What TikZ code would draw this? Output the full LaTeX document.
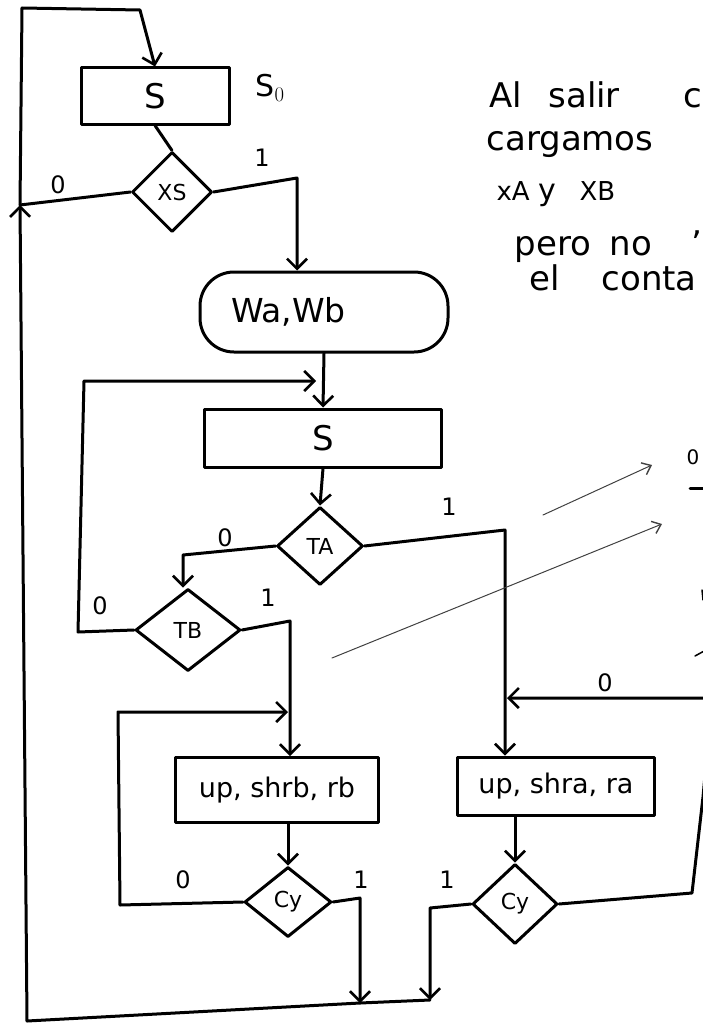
\documentclass[tikz,border=0pt]{standalone}
\usepackage{fontspec}
\setsansfont{DejaVu Sans}
\usetikzlibrary{shapes.geometric,arrows.meta}
\begin{document}
\begin{tikzpicture}[x=1pt,y=-1pt,
  line width=3pt, line join=round, line cap=round,
  every node/.style={font=\sffamily},
  arr/.style={-{Straight Barb[length=10pt,width=20pt,line width=2.6pt]}},
  thinarr/.style={line width=1pt, black!75, -{Straight Barb[length=8pt,width=13pt,line width=1.4pt]}},
  procbox/.style={draw, minimum width=#1, minimum height=58pt, inner sep=2pt, font=\sffamily\fontsize{27}{30}\selectfont},
  test/.style={draw, diamond, inner sep=0pt, font=\sffamily\fontsize{22}{26}\selectfont},
  term/.style={draw, rounded corners=34pt, minimum width=248pt, minimum height=80pt, font=\sffamily\fontsize{33}{36}\selectfont},
  lbl/.style={font=\sffamily\fontsize{24}{28}\selectfont},
  note/.style={anchor=base west, inner sep=0pt, font=\sffamily\fontsize{34}{40}\selectfont}]
\useasboundingbox (0,0) rectangle (703,1025);
\clip (0,0) rectangle (703,1025);

% states and tests
\node[procbox=148pt, minimum height=56pt, font=\sffamily\fontsize{34}{38}\selectfont] (s1) at (155,96) {S};
\node[test, minimum width=80pt, minimum height=80pt] (xs) at (172,192) {XS};
\node[term, text width=186pt, align=left] (wab) at (324,312) {Wa,Wb};
\node[procbox=237pt, font=\sffamily\fontsize{34}{38}\selectfont] (s2) at (323,438) {S};
\node[test, minimum width=86pt, minimum height=78pt] (ta) at (320,546) {TA};
\node[test, minimum width=105pt, minimum height=82pt] (tb) at (188,630) {TB};
\node[procbox=203pt, minimum height=65pt] (rb) at (277,790) {up, shrb, rb};
\node[test, minimum width=87pt, minimum height=70pt] (cy1) at (288,902) {Cy};
\node[procbox=197pt] (ra) at (556,786) {up, shra, ra};
\node[test, minimum width=85pt, minimum height=80pt] (cy2) at (515,904) {Cy};

% bend points
\coordinate (j0) at (20,205);
\coordinate (tl) at (22,8);
\coordinate (tm) at (140,10);
\coordinate (k1) at (297,178);
\coordinate (j1) at (316,381);
\coordinate (l1a) at (78,632);
\coordinate (l1b) at (84,381);
\coordinate (k2) at (183,555);
\coordinate (ka) at (505,530);
\coordinate (kb) at (507,698);
\coordinate (kc) at (290,621);
\coordinate (l2a) at (120,905);
\coordinate (l2b) at (118,712);
\coordinate (l2c) at (288,712);
\coordinate (k3) at (360,898);
\coordinate (m1) at (360,1003);
\coordinate (k4) at (430,908);
\coordinate (m2) at (430,1000);
\coordinate (bl) at (27,1021);
\coordinate (r1) at (692,893);
\coordinate (r2) at (703,797);
\coordinate (r3) at (712,698);

% main flow
\draw[arr] (j0) -- (tl) -- (tm) -- (s1.north);
\draw (s1.south) -- (xs.north);
\draw (xs.west) -- (j0);
\draw[arr] (xs.east) -- (k1) -- (k1 |- wab.north);
\draw[arr] (wab.south) -- (s2.north);
\draw[arr] (tb.west) -- (l1a) -- (l1b) -- (j1);
\draw[arr] (s2.south) -- (ta.north);
\draw[arr] (ta.west) -- (k2) -- (k2 |- tb.north);
\draw[arr] (ta.east) -- (ka) -- (ka |- ra.north);
\draw[arr] (tb.east) -- (kc) -- (kc |- rb.north);
\draw[arr] (cy1.west) -- (l2a) -- (l2b) -- (l2c);
\draw[arr] (cy1.north |- rb.south) -- (cy1.north);
\draw[arr] (cy1.east) -- (k3) -- (m1);
\draw[arr] (cy2.north |- ra.south) -- (cy2.north);
\draw[arr] (cy2.west) -- (k4) -- (m2);
\draw (m2) -- (m1);
\draw[arr] (m1) -- (bl) -- (j0);
\draw[arr] (cy2.east) -- (r1) -- (r2) -- (r3) -- (kb);

% branch labels
\node[lbl, font=\sffamily\fontsize{30}{34}\selectfont] at (270,88) {S$_0$};
\node[lbl] at (58,185) {0};
\node[lbl] at (262,158) {1};
\node[lbl] at (225,538) {0};
\node[lbl] at (449,507) {1};
\node[lbl] at (100,606) {0};
\node[lbl] at (268,598) {1};
\node[lbl] at (605,683) {0};
\node[lbl] at (183,880) {0};
\node[lbl] at (361,880) {1};
\node[lbl] at (447,880) {1};

% side note, word by word
\node[note] (w1) at (488,107) {Al};
\node[note] (w2) at (547,107) {salir};
\node[note] (w3) at (682,107) {c};
\node[note] (w4) at (485,150) {cargamos};
\node[note, font=\sffamily\fontsize{26}{30}\selectfont] (w5) at (495,200) {xA};
\node[note, font=\sffamily\fontsize{30}{34}\selectfont] (w6) at (537,200) {y};
\node[note, font=\sffamily\fontsize{26}{30}\selectfont] (w7) at (578,200) {XB};
\node[note] (w8) at (513,255) {pero};
\node[note] (w9) at (608,255) {no};
\node[note] (w10) at (690,255) {'};
\node[note] (w11) at (528,290) {el};
\node[note] (w12) at (600,290) {conta};

% pointer arrows
\coordinate (p1) at (543,515);
\coordinate (q1) at (652,465);
\coordinate (p2) at (332,658);
\coordinate (q2) at (662,524);
\draw[thinarr] (p1) -- (q1);
\draw[thinarr] (p2) -- (q2);

% marks at the right edge
\node[lbl, font=\sffamily\fontsize{20}{24}\selectfont] at (693,457) {0};
\draw (690,488) -- (706,488);
\draw[line width=1.5pt] (702,590) -- (703,600);
\draw[line width=1.5pt] (695,656) -- (706,650);
\end{tikzpicture}
\end{document}
